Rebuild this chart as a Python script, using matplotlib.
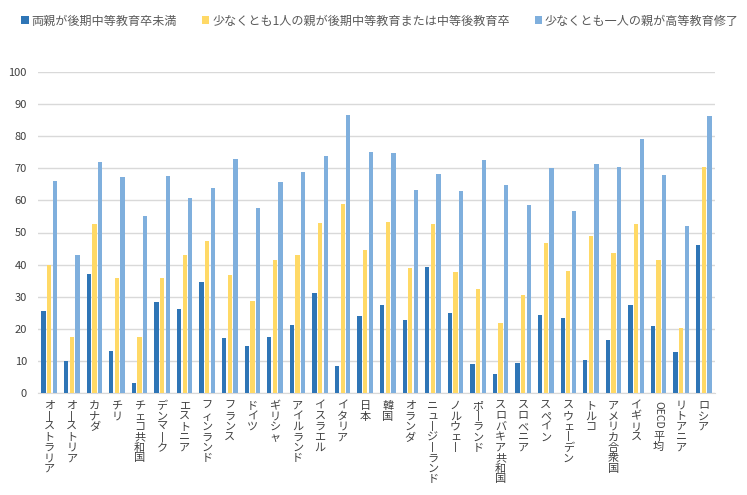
import matplotlib
matplotlib.use("Agg")
import matplotlib.pyplot as plt
import matplotlib.transforms as mtransforms
import numpy as np

plt.rcParams['font.family'] = ['Noto Sans CJK JP', 'DejaVu Sans']

countries = ["オーストラリア", "オーストリア", "カナダ", "チリ", "チェコ共和国", "デンマーク",
             "エストニア", "フィンランド", "フランス", "ドイツ", "ギリシャ", "アイルランド",
             "イスラエル", "イタリア", "日本", "韓国", "オランダ", "ニュージーランド",
             "ノルウェー", "ポーランド", "スロバキア共和国", "スロベニア", "スペイン",
             "スウェーデン", "トルコ", "アメリカ合衆国", "イギリス", "OECD平均",
             "リトアニア", "ロシア"]
series_names = ["両親が後期中等教育卒未満",
                "少なくとも1人の親が後期中等教育または中等後教育卒",
                "少なくとも一人の親が高等教育修了"]
below_upper_sec = [25.6, 10.0, 37.1, 13.1, 3.1, 28.4, 26.2, 34.6, 17.2, 14.7,
                   17.5, 21.2, 31.2, 8.4, 24.0, 27.4, 22.8, 39.3, 24.9, 9.0,
                   5.9, 9.4, 24.3, 23.4, 10.3, 16.5, 27.4, 20.9, 12.8, 46.2]
upper_sec = [39.9, 17.5, 52.7, 35.9, 17.5, 35.9, 43.0, 47.4, 36.8, 28.7,
             41.5, 43.0, 53.0, 58.9, 44.6, 53.3, 39.0, 52.7, 37.7, 32.4,
             21.8, 30.6, 46.8, 38.0, 49.0, 43.7, 52.7, 41.5, 20.3, 70.5]
tertiary = [66.1, 43.0, 72.0, 67.4, 55.2, 67.7, 60.8, 63.9, 73.0, 57.7,
            65.8, 68.9, 73.9, 86.7, 75.2, 74.8, 63.3, 68.3, 63.0, 72.7,
            64.9, 58.6, 70.2, 56.8, 71.4, 70.5, 79.2, 68.0, 52.1, 86.4]
colors = ["#2E75B6", "#FFD966", "#7FAFDD"]

fig = plt.figure(figsize=(7.47, 4.95), dpi=100)
ax = fig.add_axes([38 / 747, 102 / 495, 677 / 747, 321 / 495])

x = np.arange(len(countries))
for i, vals in enumerate([below_upper_sec, upper_sec, tertiary]):
    ax.bar(x + (i - 1) * 0.25, vals, width=0.19, color=colors[i], label=series_names[i], zorder=3)

ax.set_xlim(-0.5, len(countries) - 0.5)
ax.set_ylim(0, 100)
ax.set_yticks(range(0, 101, 10))
ax.yaxis.grid(True, color="#D9D9D9", linewidth=1, zorder=0)
ax.tick_params(axis="y", length=0, pad=8, labelsize=8, labelcolor="#404040")
ax.set_xticks([])
for s in ["top", "right", "left"]:
    ax.spines[s].set_visible(False)
ax.spines["bottom"].set_color("#D9D9D9")

# vertical (tategaki) category labels
trans = mtransforms.blended_transform_factory(ax.transData, ax.transAxes)
for xi, name in zip(x, countries):
    if name.startswith("OECD"):
        ax.text(xi, -0.025, "OECD", rotation=-90, ha="center", va="top",
                fontsize=7.5, color="#404040", transform=trans)
        ax.text(xi, -0.12, "平\n均", ha="center", va="top", fontsize=8,
                linespacing=1.06, color="#404040", transform=trans)
        continue
    label = "\n".join("丨" if c == "ー" else c for c in name)
    ax.text(xi, -0.025, label, ha="center", va="top", fontsize=8,
            linespacing=1.06, color="#404040", transform=trans)

leg = fig.legend(loc="upper left", bbox_to_anchor=(0.0126, 0.995), ncol=3, frameon=False,
                 fontsize=8.7, handlelength=0.6, handleheight=0.6, handletextpad=0.25,
                 columnspacing=2.05, borderpad=0.5)
for t in leg.get_texts():
    t.set_color("#595959")

fig.savefig("out.png", dpi=100)
